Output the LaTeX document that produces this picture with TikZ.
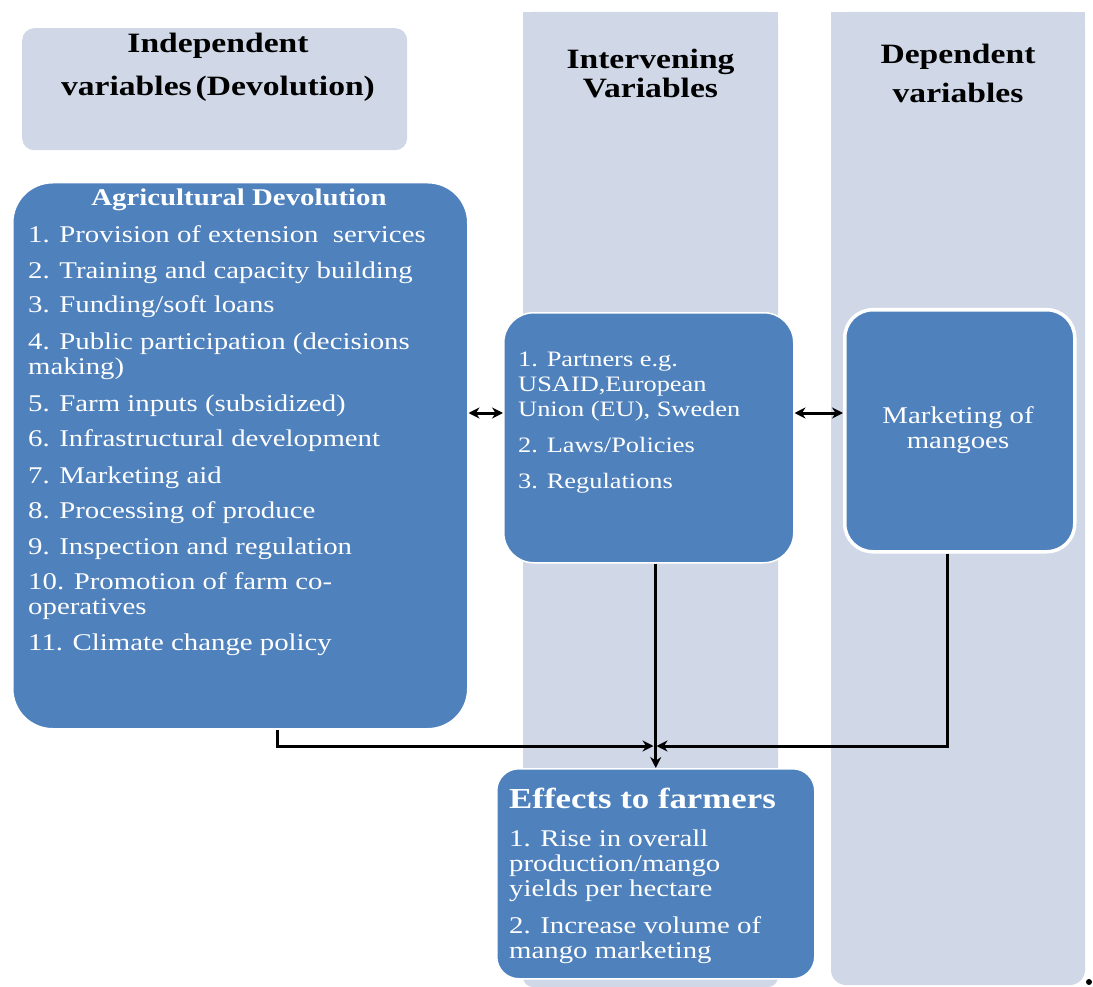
\documentclass[tikz,border=0pt]{standalone}
\usepackage{fontspec}
\setmainfont{Liberation Serif}[FakeStretch=1.2]
\usetikzlibrary{arrows.meta}
\definecolor{dblue}{HTML}{4F81BD}
\definecolor{lblue}{HTML}{D0D8E8}
\begin{document}
\begin{tikzpicture}[x=1pt,y=-1pt,
  bgbox/.style={fill=lblue, draw=none, inner sep=0pt, anchor=north west},
  dbox/.style={fill=dblue, draw=white, line width=1.5pt, inner sep=0pt, anchor=north west, rounded corners=#1},
  hdr/.style={anchor=north, inner sep=0pt, align=center, text=black, font=\bfseries\fontsize{28}{#1}\selectfont},
  wtxt/.style={anchor=north west, inner sep=0pt, align=left, text=white, font=\fontsize{#1}{25}\selectfont},
  arr/.style={line width=3pt, -{Stealth[length=11pt,width=11pt]}},
  darr/.style={line width=3pt, {Stealth[length=11pt,width=11pt]}-{Stealth[length=11pt,width=11pt]}}
]
\useasboundingbox (0,0) rectangle (1093,987);
% background columns
\fill[lblue, rounded corners=10pt] (523,12) rectangle (778,987);
\fill[lblue] (523,12) rectangle (778,60);
\fill[lblue, rounded corners=15pt] (831,12) rectangle (1085,985);
\fill[lblue] (831,12) rectangle (1085,60);
\node[bgbox, rounded corners=12pt, minimum width=385pt, minimum height=122pt] (hind) at (22,28) {};
% headers
\node[hdr=43] (thind) at (218,33) {Independent\\variables\hspace{4pt}(Devolution)};
\node[hdr=29] (tint) at (650.5,49) {Intervening\\Variables};
\node[hdr=39] (tdep) at (958,44) {Dependent\\variables};
% main boxes
\node[dbox=40pt, minimum width=455pt, minimum height=546pt] (agri) at (12,182) {};
\node[dbox=30pt, minimum width=290pt, minimum height=250pt] (inter) at (503,312) {};
\node[dbox=28pt, line width=3.5pt, minimum width=230pt, minimum height=242pt] (mkt) at (843,308) {};
\node[dbox=22pt, minimum width=318pt, minimum height=210pt] (eff) at (496,768) {};
% texts
\node[anchor=north, inner sep=0pt, text=white, font=\bfseries\fontsize{24}{25}\selectfont] (agrit) at (239,188.5) {Agricultural Devolution};
\node[wtxt=24] (agril) at (28,225.5) {1. Provision of extension \ services\\[11pt]
2. Training and capacity building\\[9pt]
3. Funding/soft loans\\[12pt]
4. Public participation (decisions\\
making)\\[12pt]
5. Farm inputs (subsidized)\\[10pt]
6. Infrastructural development\\[12pt]
7. Marketing aid\\[10pt]
8. Processing of produce\\[11pt]
9. Inspection and regulation\\[10pt]
10. Promotion of farm co-\\
operatives\\[11pt]
11. Climate change policy};
\node[wtxt=22] (interl) at (518,352) {1. Partners e.g.\\
USAID,European\\
Union (EU), Sweden\\[11pt]
2. Laws/Policies\\[11pt]
3. Regulations};
\node[anchor=north, inner sep=0pt, align=center, text=white, font=\fontsize{24}{25}\selectfont] (mktl) at (958,406.5) {Marketing of\\mangoes};
\node[anchor=north west, inner sep=0pt, text=white, font=\bfseries\fontsize{29}{30}\selectfont] (efft) at (509,788) {Effects to farmers};
\node[wtxt=24] (effl) at (509,829.5) {1. Rise in overall\\
production/mango\\
yields per hectare\\[12pt]
2. Increase volume of\\
mango marketing};
% connectors
\coordinate (mid) at (0,413);
\coordinate (jn) at (655,746);
\draw[darr] (agri.east |- mid) -- (inter.west |- mid);
\draw[darr] (inter.east |- mid) -- (mkt.west |- mid);
\draw[arr] ([xshift=37.5pt]agri.south) |- ([xshift=-1.5pt]jn);
\draw[arr] ([xshift=-12pt]mkt.south) |- ([xshift=1.5pt]jn);
\draw[arr] (inter.south -| eff.north) -- (eff.north);
% stray dot
\fill (1089,982) circle (3pt);
\end{tikzpicture}
\end{document}
